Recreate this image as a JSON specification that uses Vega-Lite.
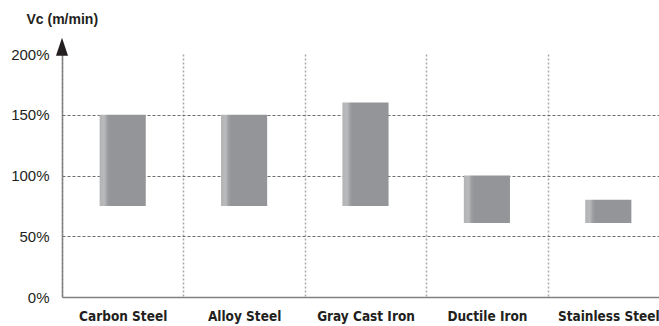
{
  "$schema": "https://vega.github.io/schema/vega-lite/v6.json",
  "autosize": "none",
  "width": 607,
  "height": 243,
  "padding": {"left": 62, "top": 54, "right": -10, "bottom": 29},
  "background": "white",
  "config": {"view": {"stroke": null}},
  "layer": [
    {
      "data": {"values": [
        {"material": "Carbon Steel", "low": 75, "high": 150},
        {"material": "Alloy Steel", "low": 75, "high": 150},
        {"material": "Gray Cast Iron", "low": 75, "high": 160},
        {"material": "Ductile Iron", "low": 61, "high": 100},
        {"material": "Stainless Steel", "low": 61, "high": 80}
      ]},
      "mark": {
        "type": "bar",
        "width": {"band": 0.38},
        "color": {
          "gradient": "linear", "x1": 0, "x2": 1, "y1": 0, "y2": 0,
          "stops": [
            {"offset": 0, "color": "#b2b3b5"},
            {"offset": 0.1, "color": "#b9babc"},
            {"offset": 0.17, "color": "#9c9da0"},
            {"offset": 0.22, "color": "#939598"},
            {"offset": 1, "color": "#939598"}
          ]
        }
      },
      "encoding": {
        "x": {
          "field": "material", "type": "nominal",
          "sort": ["Carbon Steel", "Alloy Steel", "Gray Cast Iron", "Ductile Iron", "Stainless Steel"],
          "scale": {"paddingInner": 0, "paddingOuter": 0},
          "axis": {
            "title": null,
            "labelAngle": 0,
            "labelFont": "DejaVu Sans Condensed, sans-serif",
            "labelFontWeight": "bold",
            "labelFontSize": 13.5,
            "labelColor": "#231f20",
            "labelPadding": 12,
            "ticks": false,
            "tickBand": "extent",
            "grid": true,
            "gridColor": "#a8a8a8",
            "gridDash": [2, 2],
            "gridWidth": 1.5,
            "domainColor": "#808080",
            "domainWidth": 1.5
          }
        },
        "y": {
          "field": "low", "type": "quantitative",
          "scale": {"domain": [0, 200], "nice": false},
          "axis": {
            "values": [0, 50, 100, 150, 200],
            "labelExpr": "datum.value + '%'",
            "labelFont": "Liberation Sans, Arial, sans-serif",
            "labelFontSize": 15,
            "labelColor": "#231f20",
            "labelPadding": 13,
            "ticks": false,
            "domainColor": "#808080",
            "domainWidth": 1.5,
            "grid": true,
            "gridColor": "#6d6d6d",
            "gridDash": [3, 2],
            "gridWidth": 1,
            "gridOpacity": {"condition": {"test": "datum.value <= 0 || datum.value >= 200", "value": 0}, "value": 1},
            "title": "Vc (m/min)",
            "titleAngle": 0,
            "titleAlign": "left",
            "titleBaseline": "alphabetic",
            "titleX": -36,
            "titleY": -31,
            "titleFont": "Liberation Sans, Arial, sans-serif",
            "titleFontSize": 14,
            "titleFontWeight": "bold",
            "titleColor": "#231f20"
          }
        },
        "y2": {"field": "high"}
      }
    },
    {
      "data": {"values": [{"material": "Carbon Steel", "arrow": 206}]},
      "mark": {
        "type": "point",
        "shape": "M0,-1L0.667,1L-0.667,1Z",
        "size": 324,
        "filled": true,
        "color": "#231f20",
        "opacity": 1
      },
      "encoding": {
        "x": {"field": "material", "type": "nominal", "bandPosition": 0, "sort": ["Carbon Steel", "Alloy Steel", "Gray Cast Iron", "Ductile Iron", "Stainless Steel"]},
        "y": {"field": "arrow", "type": "quantitative"}
      }
    }
  ]
}
